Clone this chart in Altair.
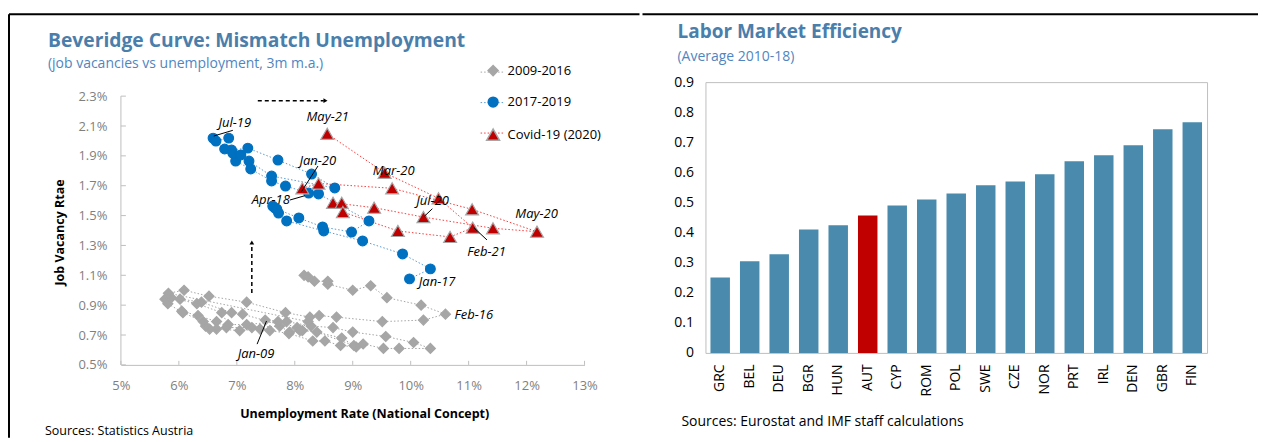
import altair as alt
import pandas as pd

# ---------------- data ----------------
SERIES = ["2009-2016", "2017-2019", "Covid-19 (2020)"]

gray_u = [7.49, 7.86, 8.28, 8.66, 9.00, 9.57, 10.05, 10.34,
          9.80, 9.53, 9.18, 9.06, 8.79, 8.52, 8.31, 7.90, 7.57, 7.40, 7.05, 6.65, 6.53, 6.46, 6.42, 6.07, 5.81, 5.76,
          6.02, 6.05, 6.33, 6.65, 6.82, 7.26, 7.74, 7.91, 8.13, 8.38, 9.02,
          8.81, 8.04, 7.71, 7.17, 6.85, 6.74, 6.31, 5.87,
          6.39, 6.91, 7.10, 8.09, 8.23,
          5.82, 6.09, 6.52, 7.17, 7.84, 8.26, 8.42, 8.72, 9.51, 10.22, 10.60, 10.18, 9.59, 9.31, 9.00, 8.57, 8.57, 8.34, 8.23, 8.16]
gray_v = [0.80, 0.79, 0.76, 0.75, 0.72, 0.69, 0.65, 0.61,
          0.61, 0.61, 0.64, 0.62, 0.63, 0.66, 0.66, 0.71, 0.73, 0.74, 0.73, 0.74, 0.74, 0.76, 0.79, 0.85, 0.91, 0.94,
          0.94, 0.86, 0.83, 0.79, 0.75, 0.75, 0.76, 0.72, 0.73, 0.72, 0.63,
          0.68, 0.75, 0.79, 0.77, 0.77, 0.85, 0.91, 0.95,
          0.92, 0.85, 0.84, 0.73, 0.79,
          0.98, 1.00, 0.96, 0.92, 0.85, 0.82, 0.83, 0.82, 0.79, 0.80, 0.84, 0.90, 0.95, 1.03, 1.00, 1.04, 1.06, 1.06, 1.09, 1.10]

blue_u = [9.98, 10.34, 9.86, 9.17, 8.50, 7.86, 7.72, 7.62, 7.66, 7.69, 8.07, 8.48,
          8.98, 9.28, 8.41, 8.24, 7.84, 7.60, 7.24, 6.98, 6.93, 7.07, 7.21, 7.60,
          8.69, 8.29, 7.71, 7.19, 6.91, 6.79, 6.59, 6.64, 6.86]
blue_v = [1.076, 1.143, 1.243, 1.330, 1.397, 1.464, 1.517, 1.564, 1.550, 1.544, 1.484, 1.424,
          1.390, 1.464, 1.645, 1.651, 1.698, 1.732, 1.812, 1.865, 1.919, 1.906, 1.865, 1.765,
          1.685, 1.778, 1.872, 1.952, 1.939, 1.946, 2.019, 1.999, 2.019]

red_u = [8.13, 8.41, 9.68, 11.06, 12.18, 11.42, 10.22, 9.37, 8.66, 8.81, 8.83, 9.78, 10.68, 11.07, 10.48, 9.55, 8.56]
red_v = [1.683, 1.715, 1.683, 1.542, 1.392, 1.415, 1.490, 1.553, 1.586, 1.586, 1.524, 1.397, 1.357, 1.419, 1.616, 1.787, 2.048]

ann_labels = ["Jul-19", "May-21", "Jan-20", "Apr-18", "Mar-20", "Jul-20", "May-20", "Feb-21", "Jan-17", "Feb-16", "Jan-09"]
ann_u = [6.966, 8.569, 8.397, 7.586, 9.707, 10.379, 12.172, 11.31, 10.457, 11.09, 7.331]
ann_v = [2.120, 2.160, 1.865, 1.604, 1.799, 1.598, 1.511, 1.256, 1.054, 0.833, 0.572]

lead_u1 = [6.603, 8.40, 7.914, 10.374, 11.316, 7.35]
lead_v1 = [2.033, 1.832, 1.604, 1.546, 1.337, 0.639]
lead_u2 = [6.931, 8.115, 8.172, 10.241, 11.09, 7.512]
lead_v2 = [2.071, 1.660, 1.633, 1.497, 1.419, 0.794]

arrow_u1 = [7.362, 7.259]
arrow_v1 = [2.270, 0.982]
arrow_u2 = [8.50, 7.259]
arrow_v2 = [2.270, 1.300]
head_u = [8.53, 7.259]
head_v = [2.270, 1.320]
head_shape = ["triangle-right", "triangle-up"]

countries = ["GRC", "BEL", "DEU", "BGR", "HUN", "AUT", "CYP", "ROM", "POL", "SWE",
             "CZE", "NOR", "PRT", "IRL", "DEN", "GBR", "FIN"]
efficiency = [0.251, 0.305, 0.328, 0.410, 0.424, 0.457, 0.490, 0.510, 0.530, 0.557,
              0.570, 0.594, 0.637, 0.657, 0.690, 0.743, 0.767]

x_ticks = [5, 6, 7, 8, 9, 10, 11, 12, 13]
y_ticks = [0.5, 0.7, 0.9, 1.1, 1.3, 1.5, 1.7, 1.9, 2.1, 2.3]
bar_ticks = [0, 0.1, 0.2, 0.3, 0.4, 0.5, 0.6, 0.7, 0.8, 0.9]

# ---------------- tables ----------------
rows = []
for name, us, vs in zip(SERIES, [gray_u, blue_u, red_u], [gray_v, blue_v, red_v]):
    for i, (a, b) in enumerate(zip(us, vs)):
        rows.append({"series": name, "idx": i, "u": a, "v": b})
pts = pd.DataFrame(rows)
ann_df = pd.DataFrame({"label": ann_labels, "u": ann_u, "v": ann_v})
lead_df = pd.DataFrame({"u": lead_u1, "v": lead_v1, "u2": lead_u2, "v2": lead_v2})
arrow_df = pd.DataFrame({"u": arrow_u1, "v": arrow_v1, "u2": arrow_u2, "v2": arrow_v2})
head_df = pd.DataFrame({"u": head_u, "v": head_v, "shape": head_shape})
ytick_df = pd.DataFrame({"u": [x_ticks[0]] * len(y_ticks), "u2": [x_ticks[0] + 0.086] * len(y_ticks), "v": y_ticks})
xtick_df = pd.DataFrame({"u": x_ticks, "v": [y_ticks[0]] * len(x_ticks), "v2": [y_ticks[0] + 0.027] * len(x_ticks)})
yaxis_df = pd.DataFrame({"u": [x_ticks[0]], "v": [y_ticks[0]], "v2": [y_ticks[-1]]})
bar_df = pd.DataFrame({"country": countries, "value": efficiency})
one = pd.DataFrame({"k": [0]})

FONT = "Open Sans"
TITLE_BLUE = "#4A7EAB"
SUB_BLUE = "#4F86BF"
AX_GRAY = "#BFBFBF"
LINE_COLORS = ["#A6A6A6", "#5B9BD5", "#FF3B3B"]

# ---------------- left chart ----------------
xs = alt.Scale(domain=[5, 13], nice=False, zero=False)
ys = alt.Scale(domain=[0.5, 2.394], nice=False, zero=False)
x_axis = alt.Axis(values=x_ticks, labelExpr="datum.value + '%'", domain=True, domainColor=AX_GRAY,
                  ticks=False, grid=False, labelFlush=False, labelColor="#7F7F7F", labelFontSize=13,
                  labelFont=FONT, labelPadding=15, title="Unemployment Rate (National Concept)", titleFont=FONT,
                  titleFontSize=12.5, titleFontWeight="bold", titleColor="#000", titleX=243.5, titleY=53,
                  titleBaseline="alphabetic", titleAlign="center")
y_axis = alt.Axis(values=y_ticks, labelExpr="format(datum.value, '.1f') + '%'", domain=False, ticks=False,
                  grid=False, labelFlush=False, labelColor="#7F7F7F", labelFontSize=13, labelFont=FONT,
                  labelPadding=14, title="Job Vacancy Rtae", titleFont=FONT, titleFontSize=12.5,
                  titleFontWeight="bold", titleColor="#000", titleX=-54, titleY=150, titleAngle=270,
                  titleBaseline="bottom", titleAlign="center")


def X(field="u"):
    return alt.X(field, type="quantitative", scale=xs, axis=x_axis)


def Y(field="v"):
    return alt.Y(field, type="quantitative", scale=ys, axis=y_axis)


LEG = alt.Legend(orient="none", legendX=365, legendY=-18, title=None, labelFontSize=13, labelFont=FONT,
                 labelColor="#000", rowPadding=14.5, padding=0, labelOffset=7)

layers = []
layers.append(alt.Chart(yaxis_df).mark_rule(color=AX_GRAY, strokeWidth=1).encode(x=X(), y=Y(), y2="v2"))
layers.append(alt.Chart(ytick_df).mark_rule(color=AX_GRAY, strokeWidth=1).encode(x=X(), x2="u2", y=Y()))
layers.append(alt.Chart(xtick_df).mark_rule(color=AX_GRAY, strokeWidth=1).encode(x=X(), y=Y(), y2="v2"))
for s, c in zip(SERIES, LINE_COLORS):
    layers.append(
        alt.Chart(pts[pts.series == s]).mark_line(color=c, strokeDash=[1.5, 2], strokeWidth=1)
        .encode(x=X(), y=Y(), order="idx:Q")
    )
# dotted line segments behind the legend symbols
for k, c in enumerate(LINE_COLORS):
    layers.append(alt.Chart(one).mark_rule(color=c, strokeDash=[1.5, 2], strokeWidth=1)
                  .encode(x=alt.value(360), x2=alt.value(383), y=alt.value(-10 + 30.5 * k)))
layers.append(
    alt.Chart(pts).mark_point(filled=True, opacity=1, strokeWidth=1.2).encode(
        x=X(), y=Y(),
        fill=alt.Fill("series:N", scale=alt.Scale(domain=SERIES, range=["#A6A6A6", "#0070C0", "#C00000"]), legend=LEG),
        stroke=alt.Stroke("series:N", scale=alt.Scale(domain=SERIES, range=["#A6A6A6", "#0070C0", "#A6A6A6"]), legend=LEG),
        shape=alt.Shape("series:N", scale=alt.Scale(domain=SERIES, range=["diamond", "circle", "triangle-up"]), legend=LEG),
        size=alt.Size("series:N", scale=alt.Scale(type="ordinal", domain=SERIES, range=[100, 95, 165]), legend=LEG),
    )
)
layers.append(alt.Chart(lead_df).mark_rule(color="#000", strokeWidth=1).encode(x=X(), y=Y(), x2="u2", y2="v2"))
layers.append(alt.Chart(arrow_df).mark_rule(color="#000", strokeWidth=1.5, strokeDash=[4, 3])
              .encode(x=X(), y=Y(), x2="u2", y2="v2"))
layers.append(alt.Chart(head_df).mark_point(filled=True, color="#000", opacity=1, size=22)
              .encode(x=X(), y=Y(), shape=alt.Shape("shape:N", scale=None)))
layers.append(alt.Chart(ann_df).mark_text(font=FONT, fontStyle="italic", fontSize=13, color="#000",
                                          align="center", baseline="middle")
              .encode(x=X(), y=Y(), text="label:N"))
# titles, source, frame
layers.append(alt.Chart(one).mark_text(text="Beveridge Curve: Mismatch Unemployment", font=FONT, fontSize=19.3,
                                       fontWeight="bold", color=TITLE_BLUE, align="left", baseline="alphabetic")
              .encode(x=alt.value(-73), y=alt.value(-35)))
layers.append(alt.Chart(one).mark_text(text="(job vacancies vs unemployment, 3m m.a.)", font=FONT, fontSize=14,
                                       color=SUB_BLUE, align="left", baseline="alphabetic")
              .encode(x=alt.value(-73), y=alt.value(-14)))
layers.append(alt.Chart(one).mark_text(text="Sources: Statistics Austria", font=FONT, fontSize=12.5,
                                       color="#000", align="left", baseline="alphabetic")
              .encode(x=alt.value(-76), y=alt.value(353)))
layers.append(alt.Chart(one).mark_rule(color="#000", strokeWidth=2)
              .encode(x=alt.value(-112), y=alt.value(-68), y2=alt.value(356)))
layers.append(alt.Chart(one).mark_rule(color="#000", strokeWidth=2)
              .encode(x=alt.value(-112), x2=alt.value(519), y=alt.value(-68)))

left = alt.layer(*layers).properties(width=464, height=283)

# ---------------- right chart ----------------
bars = alt.Chart(bar_df).mark_bar(strokeWidth=0).encode(
    x=alt.X("country:N", sort=countries, scale=alt.Scale(paddingInner=0.34, paddingOuter=0.17),
            axis=alt.Axis(labelAngle=270, labelFontSize=14, labelFont=FONT, labelColor="#000", labelPadding=11,
                          domain=False, ticks=False, grid=False, title=None)),
    y=alt.Y("value:Q", scale=alt.Scale(domain=[0, 0.9], nice=False, zero=True),
            axis=alt.Axis(values=bar_ticks, labelExpr="datum.value == 0 ? '0' : format(datum.value, '.1f')",
                          labelFontSize=14, labelFont=FONT, labelColor="#000", labelPadding=12,
                          domain=False, ticks=False, grid=False, title=None)),
    color=alt.condition(alt.datum.country == "AUT", alt.value("#C00000"), alt.value("#4A8BAD")),
)
r_layers = [bars]
r_layers.append(alt.Chart(one).mark_text(text="Labor Market Efficiency", font=FONT, fontSize=19, fontWeight="bold",
                                         color=TITLE_BLUE, align="left", baseline="alphabetic")
                .encode(x=alt.value(-28), y=alt.value(-44)))
r_layers.append(alt.Chart(one).mark_text(text="(Average 2010-18)", font=FONT, fontSize=14, color=SUB_BLUE,
                                         align="left", baseline="alphabetic")
                .encode(x=alt.value(-28), y=alt.value(-21)))
r_layers.append(alt.Chart(one).mark_text(text="Sources: Eurostat and IMF staff calculations", font=FONT,
                                         fontSize=14, color="#000", align="left", baseline="alphabetic")
                .encode(x=alt.value(-24), y=alt.value(344)))
r_layers.append(alt.Chart(one).mark_rule(color="#000", strokeWidth=2)
                .encode(x=alt.value(-63), x2=alt.value(553), y=alt.value(-68)))

right = alt.layer(*r_layers).properties(width=502, height=271,
                                         view=alt.ViewBackground(stroke=AX_GRAY, strokeWidth=1))

chart = (
    alt.hconcat(left, right, spacing=0)
    .properties(padding={"left": 0, "top": 4, "right": 0, "bottom": 0})
    .configure(font=FONT)
    .configure_view(strokeWidth=0)
)

chart.save("out.html", embed_options={"renderer": "svg", "actions": False})
